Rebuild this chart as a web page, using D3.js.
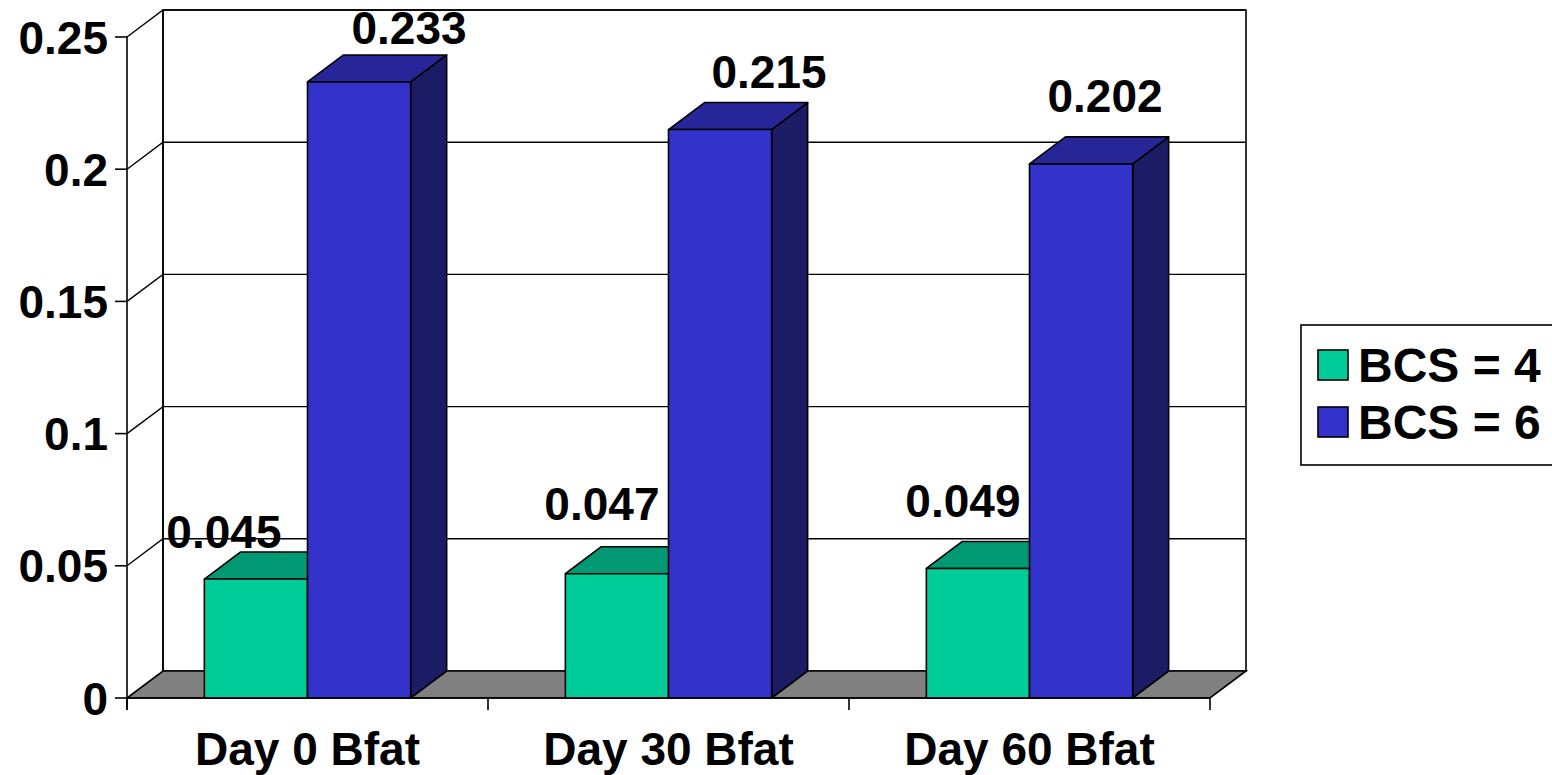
<!DOCTYPE html>
<html>
<head>
<meta charset="utf-8">
<script src="https://cdn.jsdelivr.net/npm/d3@7"></script>
<style>
  html, body { margin: 0; padding: 0; background: #fff; }
  svg { display: block; }
  text { font-family: "Liberation Sans", Arial, sans-serif; font-weight: bold; fill: #000; }
</style>
</head>
<body>
<svg id="chart" width="1552" height="775"></svg>
<script>
// Backfat thickness by sampling day and body condition score
const categories = ["Day 0 Bfat", "Day 30 Bfat", "Day 60 Bfat"];
const seriesNames = ["BCS = 4", "BCS = 6"];
const bcs4 = [0.045, 0.047, 0.049];
const bcs6 = [0.233, 0.215, 0.202];
const yTicks = [0, 0.05, 0.1, 0.15, 0.2, 0.25];
const yTickLabels = ["0", "0.05", "0.1", "0.15", "0.2", "0.25"];

// label nudges (px) relative to the top of each column: [series][category]
const labelNudge = [
  [[-50, -4], [-33, -27], [-33, -24]],
  [[32, -11], [31, -15], [6, -25]]
];

const faceColors = [
  { front: "#00CC99", top: "#009973", side: "#00664C" },
  { front: "#3333CC", top: "#262699", side: "#1C1C66" }
];

const svg = d3.select("#chart");
const DX = 36, DY = -27;           // depth offset of the 3D projection
const FONT = 46;

const x0 = d3.scaleBand().domain(categories).range([127, 1210]).paddingInner(0).paddingOuter(0);
const x1 = d3.scaleBand().domain(seriesNames).range([0, x0.bandwidth()]).paddingInner(0).paddingOuter(0.75);
const y = d3.scaleLinear().domain([0, 0.25]).range([698, 37]);

const values = [bcs4, bcs6];
const line = d3.line();

// back wall
const yTop = y(0.25), yBot = y(0);
svg.append("path")
  .attr("d", line([[127 + DX, yTop + DY], [1210 + DX, yTop + DY], [1210 + DX, yBot + DY], [127 + DX, yBot + DY]]) + "Z")
  .attr("fill", "#fff").attr("stroke", "#000").attr("stroke-width", 1.6);

// gridlines on the back and side walls
yTicks.slice(1).forEach(t => {
  svg.append("path")
    .attr("d", line([[127, y(t)], [127 + DX, y(t) + DY], [1210 + DX, y(t) + DY]]))
    .attr("fill", "none").attr("stroke", "#000").attr("stroke-width", 1.4);
});
// side wall back edge
svg.append("path")
  .attr("d", line([[127 + DX, yTop + DY], [127 + DX, yBot + DY]]))
  .attr("stroke", "#000").attr("stroke-width", 1.6);

// floor
svg.append("path")
  .attr("d", line([[127, yBot], [127 + DX, yBot + DY], [1210 + DX, yBot + DY], [1210, yBot]]) + "Z")
  .attr("fill", "#808080").attr("stroke", "#000").attr("stroke-width", 1.6);

// columns
categories.forEach((c, ci) => {
  seriesNames.forEach((s, si) => {
    const v = values[si][ci];
    const xl = x0(c) + x1(s), xr = xl + x1.bandwidth();
    const yt = y(v), yb = y(0);
    const col = faceColors[si];
    const g = svg.append("g").attr("stroke", "#000").attr("stroke-width", 1.6).attr("stroke-linejoin", "round");
    g.append("path").attr("fill", col.side)
      .attr("d", line([[xr, yb], [xr + DX, yb + DY], [xr + DX, yt + DY], [xr, yt]]) + "Z");
    g.append("path").attr("fill", col.top)
      .attr("d", line([[xl, yt], [xl + DX, yt + DY], [xr + DX, yt + DY], [xr, yt]]) + "Z");
    g.append("rect").attr("fill", col.front)
      .attr("x", xl).attr("y", yt).attr("width", xr - xl).attr("height", yb - yt);
  });
});

// axes
const yAxis = svg.append("g");
yAxis.append("line").attr("x1", 127).attr("x2", 127).attr("y1", yTop).attr("y2", 710)
  .attr("stroke", "#000").attr("stroke-width", 1.6);
yTicks.forEach((t, i) => {
  yAxis.append("line").attr("x1", 115).attr("x2", 127).attr("y1", y(t)).attr("y2", y(t))
    .attr("stroke", "#000").attr("stroke-width", 1.6);
  yAxis.append("text").attr("x", 108).attr("y", y(t) + 16.5)
    .attr("text-anchor", "end").attr("font-size", FONT).text(yTickLabels[i]);
});
const xAxis = svg.append("g");
xAxis.append("line").attr("x1", 127).attr("x2", 1210).attr("y1", yBot).attr("y2", yBot)
  .attr("stroke", "#000").attr("stroke-width", 1.6);
[...categories.map(c => x0(c)), 1210].forEach(xv => {
  xAxis.append("line").attr("x1", xv).attr("x2", xv).attr("y1", yBot).attr("y2", 710)
    .attr("stroke", "#000").attr("stroke-width", 1.6);
});
categories.forEach(c => {
  xAxis.append("text").attr("x", x0(c) + x0.bandwidth() / 2).attr("y", 765)
    .attr("text-anchor", "middle").attr("font-size", FONT).text(c);
});

// value labels
const labels = svg.append("g");
categories.forEach((c, ci) => {
  seriesNames.forEach((s, si) => {
    const v = values[si][ci];
    const cx = x0(c) + x1(s) + x1.bandwidth() / 2 + DX / 2;
    const by = y(v) + DY;
    const [nx, ny] = labelNudge[si][ci];
    labels.append("text").attr("x", cx + nx).attr("y", by + ny)
      .attr("text-anchor", "middle").attr("font-size", FONT).text(v.toFixed(3));
  });
});

// legend
const lg = svg.append("g");
lg.append("rect").attr("x", 1301).attr("y", 325).attr("width", 270).attr("height", 140)
  .attr("fill", "#fff").attr("stroke", "#000").attr("stroke-width", 1.6);
seriesNames.forEach((s, si) => {
  const yy = 350 + si * 57;
  lg.append("rect").attr("x", 1318).attr("y", yy).attr("width", 30).attr("height", 30)
    .attr("fill", faceColors[si].front).attr("stroke", "#000").attr("stroke-width", 1.6);
  lg.append("text").attr("x", 1358).attr("y", yy + 32).attr("font-size", 48).text(s);
});
</script>
</body>
</html>
